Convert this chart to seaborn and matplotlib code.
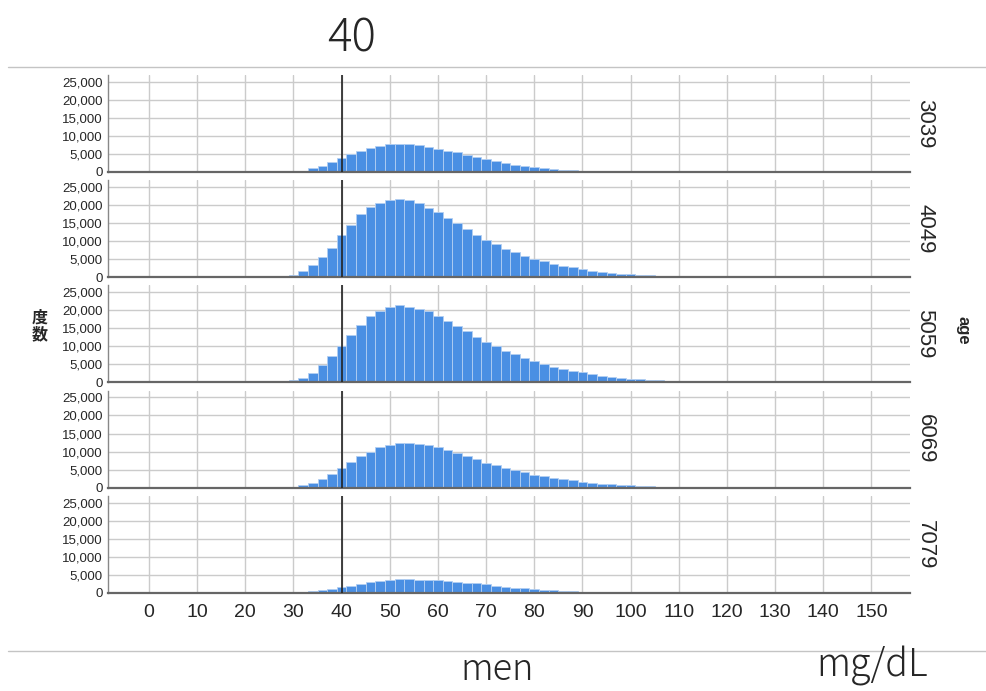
import numpy as np
import pandas as pd
import seaborn as sns
from matplotlib import pyplot as plt
from matplotlib.lines import Line2D
from matplotlib.ticker import FuncFormatter

# bin centres (mg/dL), bins are 2 wide
centers = list(range(26, 132, 2))

count_3039 = [20, 80, 180, 370, 1000, 1750, 2700, 3800, 5000, 5900,
              6650, 7300, 7750, 7780, 7700, 7550, 7050, 6500, 5950, 5450,
              4750, 4150, 3550, 2950, 2500, 2050, 1650, 1300, 1020, 800,
              620, 470, 360, 280, 210, 160, 120, 90, 70, 55,
              40, 30, 25, 20, 15, 10, 8, 6, 5, 4,
              3, 2, 2]
count_4049 = [60, 200, 700, 1700, 3300, 5500, 8100, 11600, 14600, 17400,
              19500, 20600, 21500, 21800, 21300, 20500, 19100, 18100, 16500, 14900,
              13300, 11800, 10400, 9200, 7900, 7000, 6000, 5100, 4400, 3650,
              3100, 2700, 2200, 1800, 1500, 1200, 1000, 800, 650, 520,
              420, 330, 260, 200, 160, 120, 100, 80, 60, 50,
              40, 30, 25]
count_5059 = [40, 150, 530, 1300, 2600, 4800, 7300, 10200, 13100, 15800,
              18400, 19900, 20900, 21500, 20900, 20400, 19800, 18400, 16900, 15600,
              14200, 12600, 11300, 10000, 8800, 7900, 6800, 5800, 5100, 4300,
              3600, 3300, 2800, 2300, 1900, 1600, 1300, 1050, 850, 700,
              560, 450, 360, 280, 220, 170, 130, 100, 80, 60,
              50, 40, 30]
count_6069 = [30, 100, 270, 700, 1350, 2300, 3750, 5350, 7100, 8750,
              10000, 11150, 11850, 12300, 12300, 12100, 11800, 11250, 10500, 9600,
              8750, 7850, 6950, 6250, 5500, 4800, 4300, 3550, 3200, 2750,
              2400, 2050, 1600, 1350, 1100, 900, 750, 600, 480, 380,
              300, 240, 190, 150, 110, 85, 65, 50, 40, 30,
              25, 20, 15]
count_7079 = [15, 50, 120, 250, 500, 750, 1070, 1500, 1960, 2400,
              3000, 3200, 3560, 3740, 3740, 3650, 3560, 3470, 3200, 3000,
              2850, 2580, 2400, 1960, 1700, 1420, 1250, 1070, 890, 710,
              620, 450, 360, 270, 210, 160, 120, 90, 70, 50,
              40, 30, 25, 20, 15, 12, 10, 8, 6, 5,
              4, 3, 2]

ages = ['3039', '4049', '5059', '6069', '7079']
counts = [count_3039, count_4049, count_5059, count_6069, count_7079]
x_ticks = list(range(0, 151, 10))
y_ticks = list(range(0, 25001, 5000))
cutoff = 40

rows = []
for age, cnt in zip(ages, counts):
    for c, n in zip(centers, cnt):
        rows.append({'age': age, 'value': c, 'count': n})
df = pd.DataFrame(rows)

sns.set_style('white')
plt.rcParams['font.family'] = ['Liberation Sans', 'DejaVu Sans']

W, H = 986, 691
fig = plt.figure(figsize=(W / 100, H / 100), dpi=100)

left_px, right_px = 108, 910
bar_color = '#4a8fe3'

for i, age in enumerate(ages):
    top_px = 75 + i * 105.2
    ax = fig.add_axes([left_px / W, 1 - (top_px + 97) / H,
                       (right_px - left_px) / W, 97 / H])
    sub = df[df['age'] == age]
    sns.histplot(data=sub, x='value', weights='count', binwidth=2,
                 binrange=(centers[0] - 1, centers[-1] + 1), ax=ax,
                 color=bar_color, alpha=1, edgecolor='#b3cff2', linewidth=0.6)
    ax.axvline(cutoff, color='#222222', lw=1.2, zorder=5)
    ax.set_xlim(-8.5, 158)
    ax.set_ylim(0, 26900)
    ax.set_xticks(x_ticks)
    ax.set_yticks(y_ticks)
    ax.yaxis.set_major_formatter(FuncFormatter(lambda v, p: f'{int(v):,}'))
    ax.grid(True, color='#cbcbcb', lw=1)
    ax.set_axisbelow(True)
    ax.set_xlabel('')
    ax.set_ylabel('')
    ax.tick_params(axis='both', length=0)
    ax.tick_params(axis='y', labelsize=9.5, pad=4)
    if i < len(ages) - 1:
        ax.tick_params(axis='x', labelbottom=False)
    else:
        ax.tick_params(axis='x', labelsize=14, pad=8)
    for s in ['top', 'right']:
        ax.spines[s].set_visible(False)
    ax.spines['bottom'].set_color('#666666')
    ax.spines['bottom'].set_linewidth(1.6)
    ax.spines['left'].set_color('#888888')
    ax.spines['left'].set_linewidth(1)
    ax.text(1.0187, 0.5, age, transform=ax.transAxes, rotation=-90,
            ha='center', va='center', fontsize=16)

fig.text(40 / W, 1 - 326 / H, '度\n数', ha='center', va='center',
         fontsize=11.5, fontweight='bold', linespacing=1.0,
         family=['Noto Sans CJK JP', 'DejaVu Sans'])
fig.text(963 / W, 1 - 330 / H, 'age', rotation=-90, ha='center', va='center',
         fontsize=12, fontweight='bold')

# separator lines
fig.add_artist(Line2D([8 / W, 1], [1 - 67 / H, 1 - 67 / H], color='#c4c4c4', lw=1))
fig.add_artist(Line2D([8 / W, 1], [1 - 651 / H, 1 - 651 / H], color='#c4c4c4', lw=1))

cjk = ['Noto Sans CJK JP', 'DejaVu Sans']
fig.text(352 / W, 1 - 52 / H, '40', ha='center', va='baseline', fontsize=33,
         family=cjk, fontweight='light')
fig.text(497 / W, 2 / H, 'men', ha='center', va='bottom', fontsize=26,
         family=cjk, fontweight='light')
fig.text(872 / W, 1 - 677 / H, 'mg/dL', ha='center', va='baseline', fontsize=27,
         family=cjk, fontweight='light')

fig.savefig('out.png', dpi=100)
